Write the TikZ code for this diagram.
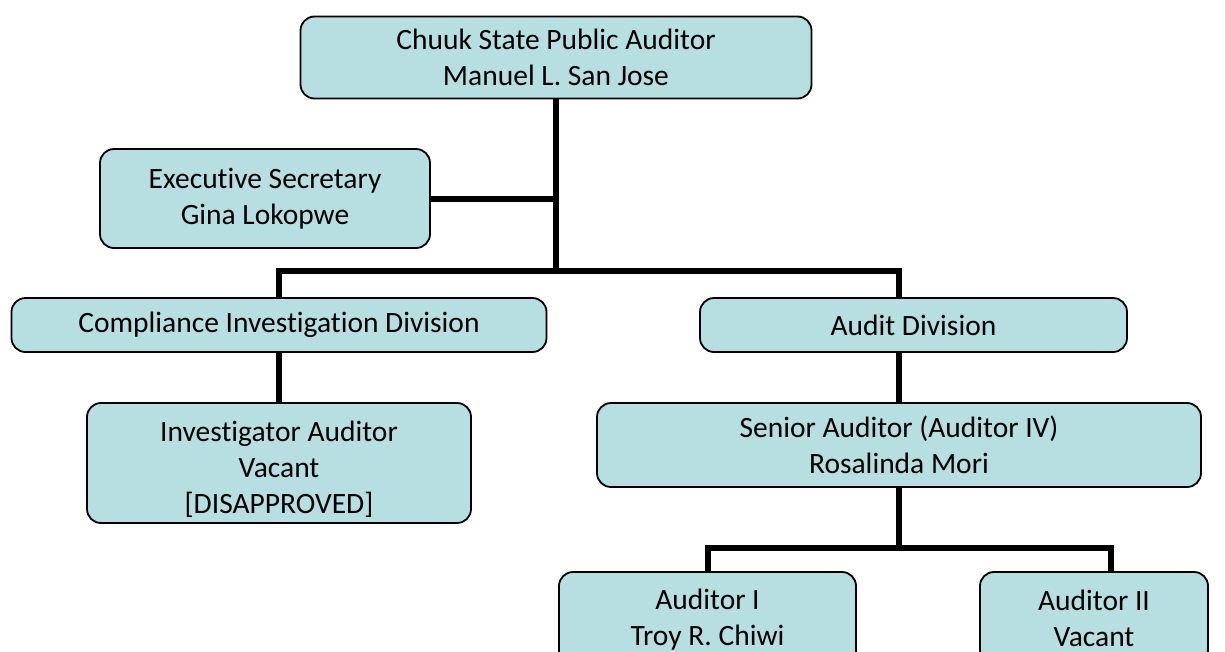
\documentclass[tikz,border=0pt]{standalone}
\usepackage{fontspec}
\setmainfont{Carlito}[Ligatures=NoCommon]
\usetikzlibrary{backgrounds}
\definecolor{boxfill}{RGB}{183,222,225}
\tikzset{
  orgbox/.style={draw=black, line width=1.8pt, fill=boxfill, rounded corners=14pt,
    align=center, inner sep=0pt, font=\fontsize{29.5}{36}\selectfont},
  orgtext/.style={align=center, inner sep=0pt, font=\fontsize{29.5}{36}\selectfont},
  link/.style={line width=6pt}
}
\begin{document}
\begin{tikzpicture}[x=1pt,y=1pt]
\useasboundingbox (0,0) rectangle (1225,-651);
\clip (0,0) rectangle (1225,-651);
\coordinate (j1) at (556,-271);
\coordinate (j2) at (899,-548);
\node[orgbox, minimum width=511pt, minimum height=82pt] (top) at (556,-57.5) {Chuuk State Public Auditor\\Manuel L. San Jose};
\node[orgbox, minimum width=330pt, minimum height=99pt] (exec) at (265,-198.5) {Executive Secretary\\Gina Lokopwe};
\node[orgbox, minimum width=535pt, minimum height=54pt] (comp) at (279,-325) {Compliance Investigation Division};
\node[orgbox, minimum width=427pt, minimum height=54pt] (audit) at (913.5,-325) {Audit Division};
\node[orgbox, minimum width=384pt, minimum height=120pt] (inv) at (279,-463) {};
\node[orgtext] (invtext) at ([yshift=-6pt]inv.center) {Investigator Auditor\\Vacant\\{[DISAPPROVED]}};
\node[orgbox, minimum width=604pt, minimum height=84pt] (senior) at (899,-445) {Senior Auditor (Auditor IV)\\Rosalinda Mori};
\node[orgbox, minimum width=297pt, minimum height=96pt] (a1) at (707.5,-620) {Auditor I\\Troy R. Chiwi};
\node[orgbox, minimum width=228pt, minimum height=92pt] (a2) at (1094,-618) {Auditor II\\Vacant};
\begin{scope}[on background layer]
\fill[white] (0,0) rectangle (1225,-651);
\draw[link] (top.south) -- (j1);
\draw[link] (exec.east) -- (exec.east -| j1);
\draw[link] (comp.north) |- (j1) -| ([xshift=-14.5pt]audit.north);
\draw[link] (comp.south) -- (inv.north);
\draw[link] ([xshift=-14.5pt]audit.south) -- (senior.north);
\draw[link] (senior.south) -- (j2);
\draw[link] (a1.north) |- (j2) -| ([xshift=17pt]a2.north);
\end{scope}
\end{tikzpicture}
\end{document}
